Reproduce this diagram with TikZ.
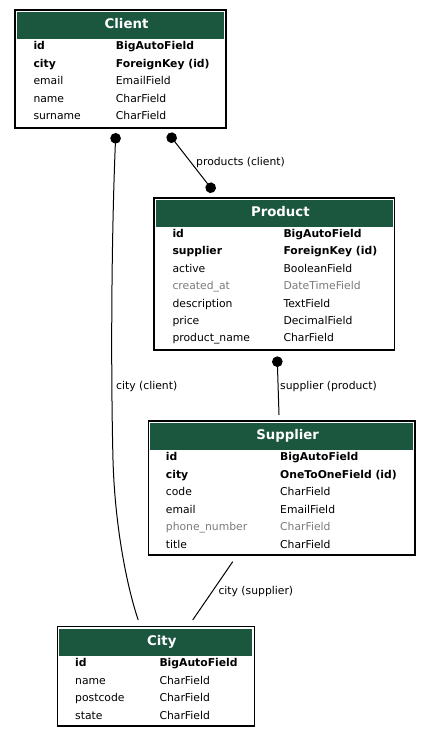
\documentclass[tikz,border=0pt]{standalone}
\usepackage{fontspec}
\setmainfont{DejaVu Sans}
\usetikzlibrary{arrows.meta}
\definecolor{djgreen}{HTML}{1B563F}
\definecolor{blankgray}{HTML}{7B7B7B}
\tikzset{
	model/.style={draw=black, line width=1.2pt, fill=white, inner sep=0pt, outer sep=0pt},
	modelhead/.style={fill=djgreen, inner sep=0pt, outer sep=0pt, minimum height=27pt, anchor=north},
	modelname/.style={text=white, inner sep=0pt, font=\fontsize{13.3}{16}\bfseries, text height=10pt, text depth=0pt},
	field/.style={anchor=west, inner sep=0pt, font=\fontsize{10.8}{13}\selectfont, text height=8.2pt, text depth=0pt},
	keyfield/.style={field, font=\fontsize{10.8}{13}\bfseries},
	blankfield/.style={field, text=blankgray},
	rel/.style={draw=black, line width=1pt},
	reldot/.tip={Circle[length=10.6pt]}
}

\begin{document}
\begin{tikzpicture}[x=1pt, y=-1pt]
  \useasboundingbox (0,0) rectangle (431,737);

  % Client
  \node[model, minimum width=211pt, minimum height=118pt] (client) at (120.5,69) {};
  \node[modelhead, minimum width=207pt] (client-h) at ([yshift=-2pt]client.north) {};
  \node[modelname] at ([xshift=6pt,yshift=2pt]client-h.center) {Client};
  \node[keyfield] (client-id) at (33.3,45.7) {id};
  \node[keyfield] (client-id-t) at (115.7,45.7) {BigAutoField};
  \node[keyfield] (client-city) at (33.3,63.2) {city};
  \node[keyfield] (client-city-t) at (115.7,63.2) {ForeignKey (id)};
  \node[field] (client-email) at (33.3,80.7) {email};
  \node[field] (client-email-t) at (115.7,80.7) {EmailField};
  \node[field] (client-name) at (33.3,98.2) {name};
  \node[field] (client-name-t) at (115.7,98.2) {CharField};
  \node[field] (client-surname) at (33.3,115.7) {surname};
  \node[field] (client-surname-t) at (115.7,115.7) {CharField};

  % Product
  \node[model, minimum width=240.7pt, minimum height=152pt] (product) at (274.35,274) {};
  \node[modelhead, minimum width=236.7pt] (product-h) at ([yshift=-2pt]product.north) {};
  \node[modelname] at ([xshift=6pt,yshift=2pt]product-h.center) {Product};
  \node[keyfield] (product-id) at (172.3,233.3) {id};
  \node[keyfield] (product-id-t) at (283.3,233.3) {BigAutoField};
  \node[keyfield] (product-supplier) at (172.3,250.8) {supplier};
  \node[keyfield] (product-supplier-t) at (283.3,250.8) {ForeignKey (id)};
  \node[field] (product-active) at (172.3,268.2) {active};
  \node[field] (product-active-t) at (283.3,268.2) {BooleanField};
  \node[blankfield] (product-created) at (172.3,285.6) {created\_at};
  \node[blankfield] (product-created-t) at (283.3,285.6) {DateTimeField};
  \node[field] (product-description) at (172.3,303) {description};
  \node[field] (product-description-t) at (283.3,303) {TextField};
  \node[field] (product-price) at (172.3,320.4) {price};
  \node[field] (product-price-t) at (283.3,320.4) {DecimalField};
  \node[field] (product-pname) at (172.3,337.8) {product\_name};
  \node[field] (product-pname-t) at (283.3,337.8) {CharField};

  % Supplier
  \node[model, minimum width=266.7pt, minimum height=134pt] (supplier) at (281.65,488) {};
  \node[modelhead, minimum width=262.7pt] (supplier-h) at ([yshift=-2pt]supplier.north) {};
  \node[modelname] at ([xshift=6pt,yshift=2pt]supplier-h.center) {Supplier};
  \node[keyfield] (supplier-id) at (165.7,456.7) {id};
  \node[keyfield] (supplier-id-t) at (280,456.7) {BigAutoField};
  \node[keyfield] (supplier-city) at (165.7,474.2) {city};
  \node[keyfield] (supplier-city-t) at (280,474.2) {OneToOneField (id)};
  \node[field] (supplier-code) at (165.7,491.7) {code};
  \node[field] (supplier-code-t) at (280,491.7) {CharField};
  \node[field] (supplier-email) at (165.7,509.2) {email};
  \node[field] (supplier-email-t) at (280,509.2) {EmailField};
  \node[blankfield] (supplier-phone) at (165.7,526.7) {phone\_number};
  \node[blankfield] (supplier-phone-t) at (280,526.7) {CharField};
  \node[field] (supplier-title) at (165.7,544.2) {title};
  \node[field] (supplier-title-t) at (280,544.2) {CharField};

  % City
  \node[model, minimum width=197pt, minimum height=99.3pt] (city) at (155.8,676.35) {};
  \node[modelhead, minimum width=193pt] (city-h) at ([yshift=-2pt]city.north) {};
  \node[modelname] at ([xshift=6pt,yshift=2pt]city-h.center) {City};
  \node[keyfield] (city-id) at (75,662.7) {id};
  \node[keyfield] (city-id-t) at (159.3,662.7) {BigAutoField};
  \node[field] (city-name) at (75,680.2) {name};
  \node[field] (city-name-t) at (159.3,680.2) {CharField};
  \node[field] (city-postcode) at (75,697.7) {postcode};
  \node[field] (city-postcode-t) at (159.3,697.7) {CharField};
  \node[field] (city-state) at (75,715.2) {state};
  \node[field] (city-state-t) at (159.3,715.2) {CharField};

  % relations
  \draw[rel, reldot-, shorten <=5pt, shorten >=7pt] ([xshift=-4.5pt]client.south)
    .. controls (111,250) and (111,380) .. (113,460)
    .. controls (115,530) and (128,590) .. ([xshift=-15.3pt]city.north);
  \draw[rel, reldot-reldot, shorten <=7pt, shorten >=7.75pt] ([xshift=43.6pt]client.south) -- ([xshift=-55.65pt]product.north);
  \draw[rel, reldot-, shorten <=6.4pt, shorten >=6pt] ([xshift=2.6pt]product.south) -- ([xshift=-2.45pt]supplier.north);
  \draw[rel, shorten <=8.1pt, shorten >=8.1pt] ([xshift=-44.35pt]supplier.south) -- ([xshift=32.3pt]city.north);

  \node[field] (products-client) at (196,161.7) {products (client)};
  \node[field] (city-client) at (116,385) {city (client)};
  \node[field] (supplier-product) at (280,385) {supplier (product)};
  \node[field] (city-supplier) at (218.3,590.7) {city (supplier)};
\end{tikzpicture}
\end{document}
